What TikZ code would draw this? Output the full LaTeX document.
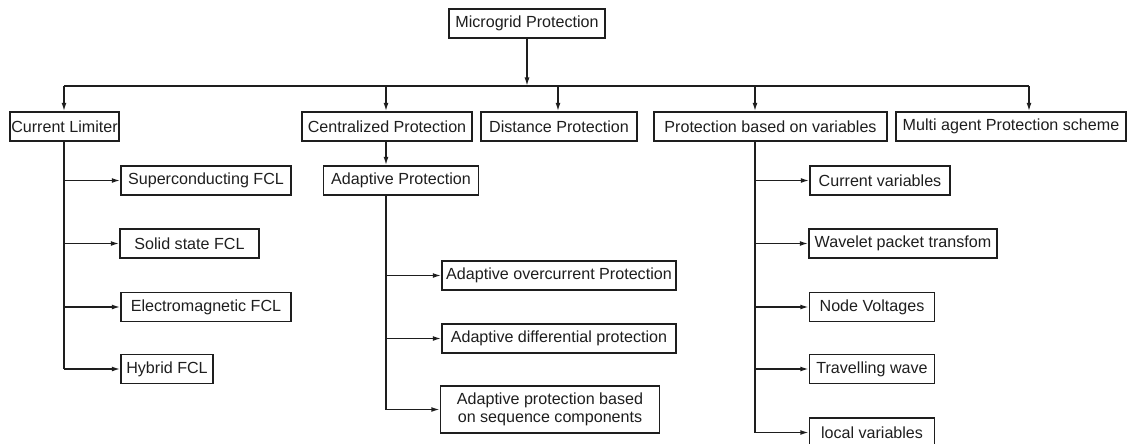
\documentclass[tikz,border=0pt]{standalone}
\usepackage{fontspec}
\setmainfont{Liberation Sans}
\usetikzlibrary{arrows.meta}
\begin{document}
\begin{tikzpicture}[x=1pt,y=-1pt,
  box/.style={draw=ink, line width=1.5pt, inner sep=0pt, minimum height=29pt,
    font=\fontsize{16.1pt}{18.5pt}\selectfont, text=ink, align=center},
  link/.style={draw=ink, line width=1.5pt},
  arr/.style={link, -{Latex[length=8.5pt,width=5pt]}}]
\definecolor{ink}{HTML}{1E1E1E}
\clip (0,0) rectangle (1127,444);
\useasboundingbox (0,0) rectangle (1127,444);

% root and first level
\node[box, minimum width=156pt] (top)  at (527,23.5)  {Microgrid Protection};
\node[box, minimum width=109pt] (cl)   at (64.5,126.5) {Current Limiter};
\node[box, minimum width=170pt] (cen)  at (387,126.5)  {Centralized Protection};
\node[box, minimum width=156pt] (dist) at (559,126.5)  {Distance Protection};
\node[box, minimum width=233pt] (pbv)  at (770.5,126.5) {Protection based on variables};
\node[box, minimum width=230pt] (mas)  at (1011,126.5) {Multi agent Protection scheme};

% current limiter branch
\node[box, minimum width=170pt] (sc) at (206,180.5)   {Superconducting FCL};
\node[box, minimum width=139pt] (ss) at (189.5,243.5) {Solid state FCL};
\node[box, minimum width=170pt] (em) at (206,307)     {Electromagnetic FCL};
\node[box, minimum width=92pt]  (hy) at (167,369)     {Hybrid FCL};

% centralized / adaptive branch
\node[box, minimum width=155pt] (ap)  at (401,180.5) {Adaptive Protection};
\node[box, minimum width=234pt] (aoc) at (559,275.5) {Adaptive overcurrent Protection};
\node[box, minimum width=234pt] (adp) at (559,338.5) {Adaptive differential protection};
\node[box, minimum width=219pt, minimum height=47pt] (aps) at (550,409.5)
  {Adaptive protection based\\on sequence components};

% variables branch
\node[box, minimum width=140pt] (cv)  at (880,180.5) {Current variables};
\node[box, minimum width=188pt] (wpt) at (903,243.5) {Wavelet packet transfom};
\node[box, minimum width=125pt] (nv)  at (872,307)   {Node Voltages};
\node[box, minimum width=125pt] (tw)  at (872,369)   {Travelling wave};
\node[box, minimum width=125pt] (lv)  at (872,432.5) {local variables};

% bus under the root
\coordinate (b1) at (64,86);
\coordinate (b2) at (386,86);
\coordinate (b3) at (558,86);
\coordinate (b4) at (755,86);
\coordinate (b5) at (1029,86);
\draw[arr] (top.south) -- (top.south |- b1);
\draw[link] (b1) -- (b5);
\draw[arr] (b1) -- (b1 |- cl.north);
\draw[arr] (b2) -- (b2 |- cen.north);
\draw[arr] (b3) -- (b3 |- dist.north);
\draw[arr] (b4) -- (b4 |- pbv.north);
\draw[arr] (b5) -- (b5 |- mas.north);

% current limiter tree
\draw[link] (b1 |- cl.south) -- (b1 |- hy.west);
\foreach \n in {sc,ss,em,hy}
  \draw[arr] (b1 |- \n.west) -- (\n.west);

% centralized -> adaptive
\draw[arr] (b2 |- cen.south) -- (b2 |- ap.north);
\draw[link] (b2 |- ap.south) -- (b2 |- aps.west);
\foreach \n in {aoc,adp,aps}
  \draw[arr] (b2 |- \n.west) -- (\n.west);

% variables tree
\draw[link] (b4 |- pbv.south) -- (b4 |- lv.west);
\foreach \n in {cv,wpt,nv,tw,lv}
  \draw[arr] (b4 |- \n.west) -- (\n.west);
\end{tikzpicture}
\end{document}
